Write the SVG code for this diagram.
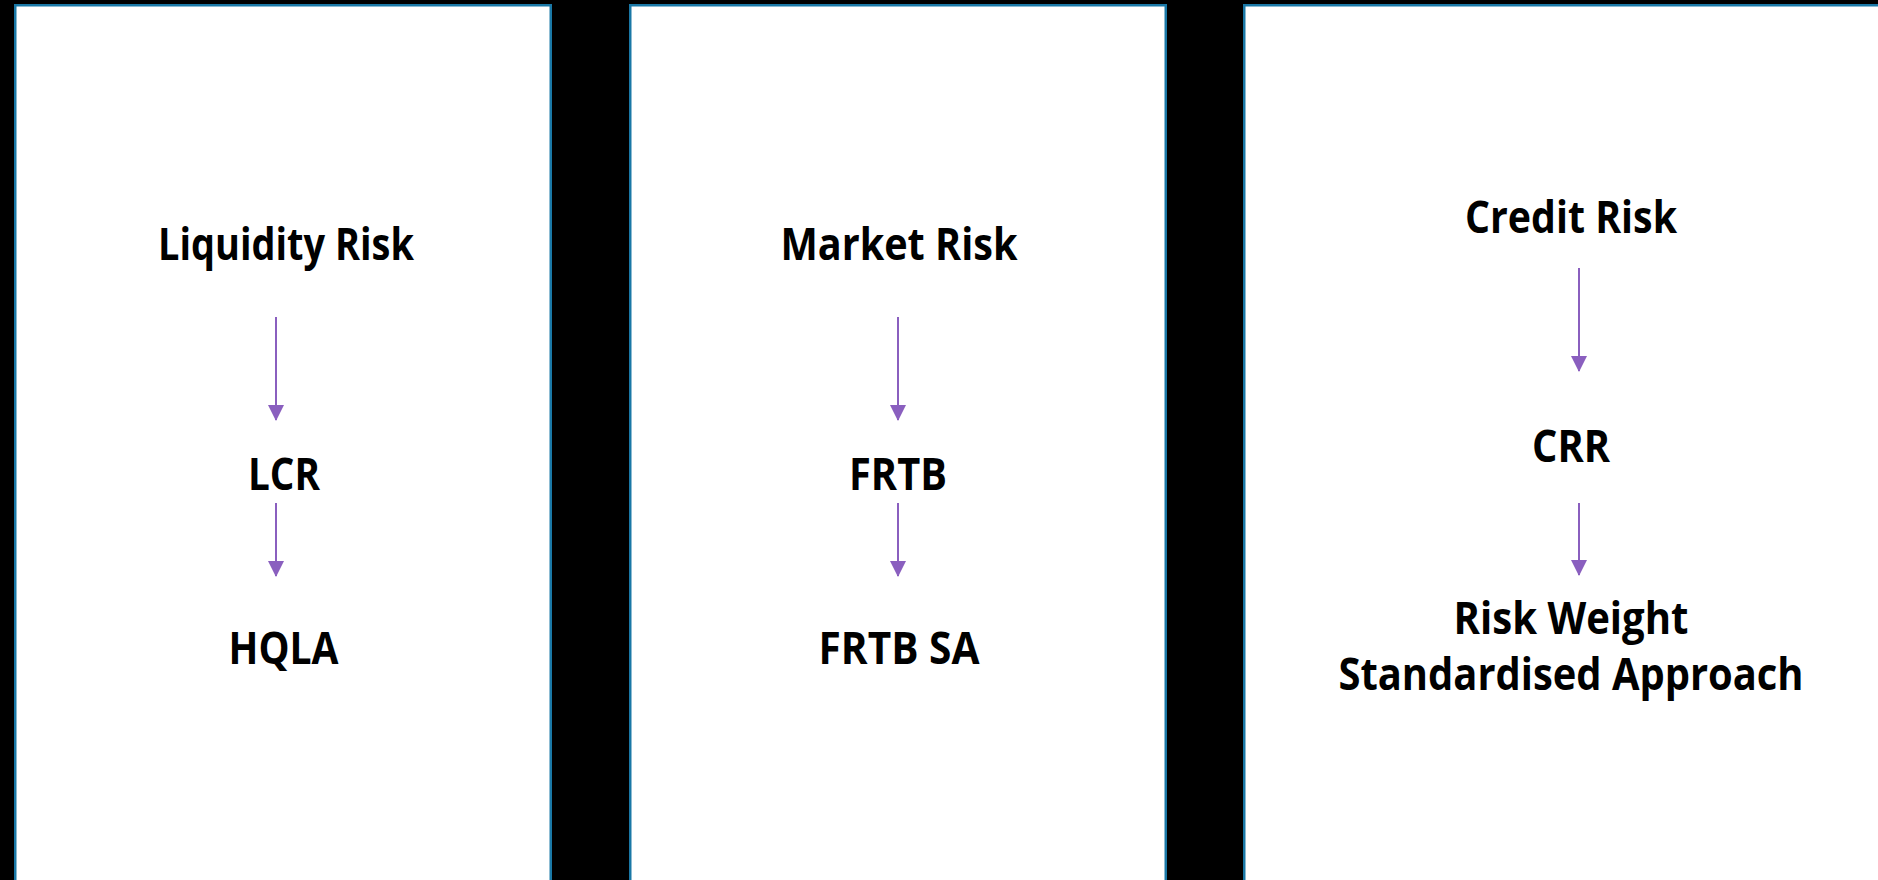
<svg xmlns="http://www.w3.org/2000/svg" width="1878" height="880" viewBox="0 0 1878 880">
  <style>
    .panel { fill: #ffffff; stroke: #1a78a6; stroke-width: 2.5; }
    .lbl { font-family: "Open Sans", "Noto Sans", "Liberation Sans", sans-serif; font-weight: bold; font-size: 45px; fill: #000000; text-anchor: middle; }
    .conn { stroke: #8a5fbf; stroke-width: 2; fill: none; marker-end: url(#arrow); }
  </style>
  <defs>
    <marker id="arrow" markerUnits="userSpaceOnUse" markerWidth="16" markerHeight="16" viewBox="0 0 16 16" refX="15" refY="8" orient="auto">
      <path d="M0,0 L16,8 L0,16 Z" fill="#8a5fbf"/>
    </marker>
  </defs>
  <rect x="0" y="0" width="1878" height="880" fill="#000000"/>
  <g id="panel-liquidity">
    <rect class="panel" x="15.25" y="5.25" width="535.5" height="900"/>
  </g>
  <g id="panel-market">
    <rect class="panel" x="630.25" y="5.25" width="535.5" height="900"/>
  </g>
  <g id="panel-credit">
    <rect class="panel" x="1244.25" y="5.25" width="700" height="900"/>
  </g>
  <g id="node-liquidity-risk"><text class="lbl" x="286" y="260" textLength="256" lengthAdjust="spacingAndGlyphs">Liquidity Risk</text></g>
  <g id="node-lcr"><text class="lbl" x="284" y="490" textLength="72" lengthAdjust="spacingAndGlyphs">LCR</text></g>
  <g id="node-hqla"><text class="lbl" x="283.5" y="664" textLength="110" lengthAdjust="spacingAndGlyphs">HQLA</text></g>
  <g id="node-market-risk"><text class="lbl" x="899" y="260" textLength="237" lengthAdjust="spacingAndGlyphs">Market Risk</text></g>
  <g id="node-frtb"><text class="lbl" x="898" y="490" textLength="98" lengthAdjust="spacingAndGlyphs">FRTB</text></g>
  <g id="node-frtb-sa"><text class="lbl" x="899" y="664" textLength="161" lengthAdjust="spacingAndGlyphs">FRTB SA</text></g>
  <g id="node-credit-risk"><text class="lbl" x="1571" y="233" textLength="212" lengthAdjust="spacingAndGlyphs">Credit Risk</text></g>
  <g id="node-crr"><text class="lbl" x="1571" y="462" textLength="78" lengthAdjust="spacingAndGlyphs">CRR</text></g>
  <g id="node-risk-weight">
    <text class="lbl" x="1571" y="634" textLength="235" lengthAdjust="spacingAndGlyphs">Risk Weight</text>
    <text class="lbl" x="1571" y="690" textLength="465" lengthAdjust="spacingAndGlyphs">Standardised Approach</text>
  </g>
  <g id="connectors">
    <line class="conn" x1="276" y1="317" x2="276" y2="420"/>
    <line class="conn" x1="276" y1="503" x2="276" y2="576"/>
    <line class="conn" x1="898" y1="317" x2="898" y2="420"/>
    <line class="conn" x1="898" y1="503" x2="898" y2="576"/>
    <line class="conn" x1="1579" y1="268" x2="1579" y2="371"/>
    <line class="conn" x1="1579" y1="503" x2="1579" y2="575"/>
  </g>
</svg>
